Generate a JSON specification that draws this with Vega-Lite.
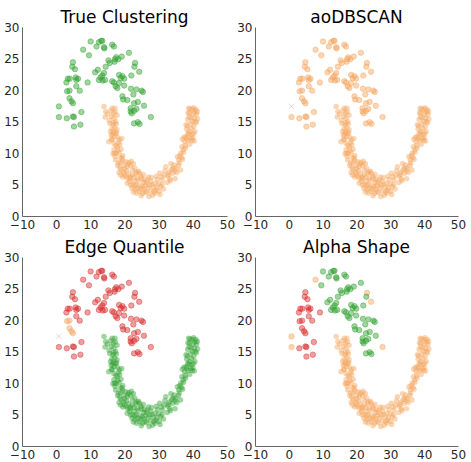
{
"$schema": "https://vega.github.io/schema/vega-lite/v6.json",
"background": "white",
"padding": {"left": 3, "top": 9, "right": 0, "bottom": 0},
"spacing": 9,
"datasets": {"up": [
{"x":0.8,"y":17.4,"t":"G","a":"N","e":"N","s":"O"},
{"x":0.8,"y":15.7,"t":"G","a":"O","e":"R","s":"O"},
{"x":3.1,"y":15.5,"t":"G","a":"O","e":"R","s":"R"},
{"x":5.2,"y":15.7,"t":"G","a":"O","e":"R","s":"R"},
{"x":4.9,"y":15.8,"t":"G","a":"O","e":"R","s":"R"},
{"x":5.2,"y":14.2,"t":"G","a":"O","e":"R","s":"R"},
{"x":7.1,"y":14.5,"t":"G","a":"O","e":"R","s":"R"},
{"x":7.4,"y":16.5,"t":"G","a":"O","e":"R","s":"R"},
{"x":3.9,"y":18.7,"t":"G","a":"O","e":"O","s":"R"},
{"x":4.5,"y":18.2,"t":"G","a":"O","e":"O","s":"R"},
{"x":4.9,"y":17.9,"t":"G","a":"O","e":"O","s":"R"},
{"x":3.2,"y":19.8,"t":"G","a":"O","e":"O","s":"R"},
{"x":3.9,"y":19.9,"t":"G","a":"O","e":"O","s":"R"},
{"x":5.9,"y":20.6,"t":"G","a":"O","e":"R","s":"R"},
{"x":6.9,"y":19.9,"t":"G","a":"O","e":"R","s":"R"},
{"x":3.0,"y":21.2,"t":"G","a":"O","e":"R","s":"R"},
{"x":3.4,"y":21.8,"t":"G","a":"O","e":"R","s":"R"},
{"x":4.0,"y":21.8,"t":"G","a":"O","e":"R","s":"R"},
{"x":5.7,"y":22.0,"t":"G","a":"O","e":"R","s":"R"},
{"x":6.4,"y":21.8,"t":"G","a":"O","e":"R","s":"R"},
{"x":5.9,"y":21.6,"t":"G","a":"O","e":"R","s":"R"},
{"x":4.7,"y":23.7,"t":"G","a":"O","e":"R","s":"R"},
{"x":4.9,"y":24.4,"t":"G","a":"O","e":"R","s":"R"},
{"x":5.5,"y":23.3,"t":"G","a":"O","e":"R","s":"R"},
{"x":9.2,"y":21.2,"t":"G","a":"O","e":"R","s":"R"},
{"x":7.9,"y":26.4,"t":"G","a":"O","e":"R","s":"O"},
{"x":23.1,"y":24.3,"t":"G","a":"O","e":"R","s":"O"},
{"x":24.3,"y":22.9,"t":"G","a":"O","e":"R","s":"O"},
{"x":27.7,"y":15.7,"t":"G","a":"O","e":"R","s":"O"},
{"x":9.6,"y":25.5,"t":"G","a":"O","e":"R","s":"G"},
{"x":10.1,"y":27.7,"t":"G","a":"O","e":"R","s":"G"},
{"x":11.8,"y":26.9,"t":"G","a":"O","e":"R","s":"G"},
{"x":12.5,"y":27.6,"t":"G","a":"O","e":"R","s":"G"},
{"x":13.2,"y":27.8,"t":"G","a":"O","e":"R","s":"G"},
{"x":13.5,"y":27.8,"t":"G","a":"O","e":"R","s":"G"},
{"x":14.0,"y":26.8,"t":"G","a":"O","e":"R","s":"G"},
{"x":14.1,"y":26.6,"t":"G","a":"O","e":"R","s":"G"},
{"x":16.4,"y":27.2,"t":"G","a":"O","e":"R","s":"G"},
{"x":16.9,"y":26.9,"t":"G","a":"O","e":"R","s":"G"},
{"x":11.4,"y":22.8,"t":"G","a":"O","e":"R","s":"G"},
{"x":12.2,"y":23.2,"t":"G","a":"O","e":"R","s":"G"},
{"x":12.5,"y":21.6,"t":"G","a":"O","e":"R","s":"G"},
{"x":13.0,"y":22.0,"t":"G","a":"O","e":"R","s":"G"},
{"x":13.5,"y":22.3,"t":"G","a":"O","e":"R","s":"G"},
{"x":14.0,"y":22.7,"t":"G","a":"O","e":"R","s":"G"},
{"x":14.3,"y":21.6,"t":"G","a":"O","e":"R","s":"G"},
{"x":13.6,"y":21.5,"t":"G","a":"O","e":"R","s":"G"},
{"x":14.5,"y":23.7,"t":"G","a":"O","e":"R","s":"G"},
{"x":15.3,"y":24.7,"t":"G","a":"O","e":"R","s":"G"},
{"x":15.7,"y":24.3,"t":"G","a":"O","e":"R","s":"G"},
{"x":17.2,"y":24.9,"t":"G","a":"O","e":"R","s":"G"},
{"x":17.6,"y":25.2,"t":"G","a":"O","e":"R","s":"G"},
{"x":17.1,"y":24.5,"t":"G","a":"O","e":"R","s":"G"},
{"x":18.2,"y":24.9,"t":"G","a":"O","e":"R","s":"G"},
{"x":19.2,"y":25.3,"t":"G","a":"O","e":"R","s":"G"},
{"x":21.3,"y":25.9,"t":"G","a":"O","e":"R","s":"G"},
{"x":16.4,"y":21.4,"t":"G","a":"O","e":"R","s":"G"},
{"x":16.9,"y":21.2,"t":"G","a":"O","e":"R","s":"G"},
{"x":17.4,"y":20.6,"t":"G","a":"O","e":"R","s":"G"},
{"x":18.4,"y":22.4,"t":"G","a":"O","e":"R","s":"G"},
{"x":18.9,"y":21.9,"t":"G","a":"O","e":"R","s":"G"},
{"x":19.4,"y":22.2,"t":"G","a":"O","e":"R","s":"G"},
{"x":19.9,"y":21.8,"t":"G","a":"O","e":"R","s":"G"},
{"x":18.4,"y":21.1,"t":"G","a":"O","e":"R","s":"G"},
{"x":17.9,"y":20.3,"t":"G","a":"O","e":"R","s":"G"},
{"x":19.9,"y":20.7,"t":"G","a":"O","e":"R","s":"G"},
{"x":19.4,"y":19.0,"t":"G","a":"O","e":"R","s":"G"},
{"x":19.6,"y":18.5,"t":"G","a":"O","e":"R","s":"G"},
{"x":20.8,"y":18.4,"t":"G","a":"O","e":"R","s":"G"},
{"x":22.0,"y":22.3,"t":"G","a":"O","e":"R","s":"G"},
{"x":21.9,"y":20.2,"t":"G","a":"O","e":"R","s":"G"},
{"x":22.8,"y":17.9,"t":"G","a":"O","e":"R","s":"G"},
{"x":23.5,"y":20.1,"t":"G","a":"O","e":"R","s":"G"},
{"x":22.9,"y":23.7,"t":"G","a":"O","e":"R","s":"G"},
{"x":25.0,"y":19.9,"t":"G","a":"O","e":"R","s":"G"},
{"x":25.4,"y":19.7,"t":"G","a":"O","e":"R","s":"G"},
{"x":25.7,"y":17.5,"t":"G","a":"O","e":"R","s":"G"},
{"x":23.9,"y":18.1,"t":"G","a":"O","e":"R","s":"G"},
{"x":21.8,"y":16.6,"t":"G","a":"O","e":"R","s":"G"},
{"x":22.1,"y":16.3,"t":"G","a":"O","e":"R","s":"G"},
{"x":22.8,"y":16.7,"t":"G","a":"O","e":"R","s":"G"},
{"x":23.5,"y":17.0,"t":"G","a":"O","e":"R","s":"G"},
{"x":22.8,"y":14.7,"t":"G","a":"O","e":"R","s":"G"},
{"x":23.9,"y":14.9,"t":"G","a":"O","e":"R","s":"G"},
{"x":24.4,"y":14.6,"t":"G","a":"O","e":"R","s":"G"},
{"x":22.6,"y":19.3,"t":"G","a":"O","e":"R","s":"G"},
{"x":21.8,"y":17.1,"t":"G","a":"O","e":"R","s":"G"}
],
"low": [
{"x":14.0,"y":17.4},{"x":14.5,"y":16.6},{"x":14.3,"y":15.7},{"x":15.0,"y":16.2},{"x":15.5,"y":15.2},{"x":16.4,"y":17.1},{"x":17.2,"y":17.1},{"x":16.7,"y":16.3},{"x":17.3,"y":16.5},{"x":16.9,"y":15.5},{"x":16.2,"y":15.8},{"x":17.4,"y":15.0},{"x":16.8,"y":14.8},{"x":17.6,"y":14.6},{"x":16.6,"y":14.5},{"x":17.1,"y":14.0},{"x":16.3,"y":13.8},{"x":17.8,"y":13.7},{"x":15.9,"y":13.4},{"x":17.4,"y":13.1},{"x":16.8,"y":13.3},{"x":16.1,"y":12.8},{"x":17.0,"y":12.6},
{"x":15.4,"y":11.8},{"x":16.4,"y":12.1},{"x":17.9,"y":12.5},{"x":19.2,"y":12.3},{"x":16.9,"y":11.5},{"x":17.5,"y":11.2},{"x":18.3,"y":11.7},{"x":17.9,"y":11.0},{"x":16.9,"y":10.5},{"x":18.0,"y":10.4},{"x":17.6,"y":9.9},{"x":18.4,"y":10.1},{"x":19.0,"y":10.6},{"x":17.2,"y":9.5},{"x":18.8,"y":9.3},{"x":19.5,"y":9.6},
{"x":17.4,"y":8.9},{"x":18.2,"y":8.4},{"x":18.9,"y":8.5},{"x":19.5,"y":8.8},{"x":20.4,"y":8.6},{"x":21.3,"y":8.5},{"x":22.0,"y":8.7},{"x":20.8,"y":7.8},{"x":21.8,"y":8.0},{"x":19.8,"y":8.0},{"x":18.6,"y":7.7},{"x":22.3,"y":7.3},{"x":23.0,"y":7.6},{"x":19.7,"y":7.0},{"x":18.4,"y":6.9},{"x":20.6,"y":7.2},{"x":21.2,"y":6.7},{"x":22.3,"y":6.5},{"x":23.3,"y":6.8},{"x":24.1,"y":7.1},{"x":19.5,"y":6.2},{"x":20.4,"y":6.3},{"x":21.6,"y":5.9},{"x":23.8,"y":6.0},{"x":24.8,"y":6.3},{"x":25.5,"y":6.6},{"x":22.8,"y":6.1},
{"x":20.8,"y":5.2},{"x":21.8,"y":4.9},{"x":22.8,"y":5.5},{"x":23.5,"y":5.0},{"x":22.2,"y":4.4},{"x":23.0,"y":4.2},{"x":23.8,"y":4.4},{"x":24.3,"y":3.9},{"x":24.8,"y":4.8},{"x":25.3,"y":3.6},{"x":25.8,"y":4.3},{"x":26.2,"y":4.9},{"x":26.7,"y":5.7},{"x":25.6,"y":5.3},{"x":27.7,"y":5.5},{"x":27.2,"y":3.1},{"x":28.2,"y":3.3},{"x":27.6,"y":4.0},{"x":28.5,"y":4.6},{"x":29.2,"y":4.1},{"x":29.0,"y":5.2},{"x":30.1,"y":3.9},{"x":30.4,"y":3.4},{"x":30.6,"y":4.7},{"x":29.6,"y":5.8},{"x":31.1,"y":5.7},{"x":31.6,"y":6.5},{"x":30.8,"y":6.2},{"x":31.4,"y":4.3},{"x":24.0,"y":5.6},{"x":26.5,"y":3.7},{"x":21.5,"y":5.5},{"x":22.6,"y":3.8},{"x":28.9,"y":3.6},{"x":26.9,"y":4.5},{"x":25.0,"y":5.9},{"x":27.9,"y":6.1},
{"x":32.6,"y":6.3},{"x":33.1,"y":7.0},{"x":34.1,"y":6.8},{"x":32.1,"y":7.8},{"x":33.4,"y":5.6},{"x":34.5,"y":8.1},{"x":35.0,"y":7.6},{"x":33.8,"y":7.4},{"x":36.0,"y":8.4},{"x":35.3,"y":6.9},{"x":36.4,"y":7.3},{"x":34.8,"y":5.9},{"x":32.5,"y":5.3},{"x":35.5,"y":9.4},{"x":36.5,"y":10.0},{"x":37.0,"y":9.0},{"x":35.9,"y":8.9},{"x":36.2,"y":9.6},
{"x":36.8,"y":11.0},{"x":37.6,"y":11.8},{"x":37.2,"y":10.5},{"x":38.0,"y":12.6},{"x":38.5,"y":13.1},{"x":37.8,"y":11.2},{"x":39.0,"y":13.4},{"x":39.7,"y":12.9},{"x":40.2,"y":13.1},{"x":39.4,"y":12.3},{"x":40.4,"y":11.9},{"x":38.6,"y":12.0},{"x":39.1,"y":11.4},{"x":40.0,"y":12.4},{"x":38.2,"y":13.8},{"x":37.4,"y":12.5},{"x":36.9,"y":12.2},{"x":39.6,"y":13.9},
{"x":38.0,"y":14.5},{"x":38.5,"y":15.3},{"x":39.0,"y":16.3},{"x":38.8,"y":17.1},{"x":39.9,"y":16.9},{"x":40.9,"y":16.9},{"x":41.1,"y":16.1},{"x":40.4,"y":15.5},{"x":39.9,"y":15.0},{"x":41.4,"y":15.4},{"x":38.4,"y":14.3},{"x":39.3,"y":14.6},{"x":40.6,"y":16.5},{"x":40.1,"y":16.2},{"x":39.5,"y":15.6},{"x":41.0,"y":14.8},{"x":38.6,"y":16.4},{"x":40.3,"y":14.2},
{"x":16.0,"y":16.7},{"x":17.8,"y":16.0},{"x":15.7,"y":14.7},{"x":16.5,"y":13.0},{"x":17.7,"y":13.2},{"x":16.2,"y":12.2},{"x":18.5,"y":12.1},{"x":17.1,"y":10.0},{"x":18.6,"y":11.3},{"x":19.3,"y":9.2},{"x":16.6,"y":9.9},
{"x":18.0,"y":8.0},{"x":19.0,"y":7.4},{"x":20.0,"y":7.5},{"x":21.0,"y":8.2},{"x":22.6,"y":8.3},{"x":23.6,"y":7.0},{"x":19.9,"y":6.6},{"x":21.7,"y":6.2},{"x":24.4,"y":6.8},{"x":20.9,"y":6.0},{"x":18.8,"y":6.5},
{"x":22.4,"y":5.0},{"x":23.2,"y":4.8},{"x":24.6,"y":4.3},{"x":25.2,"y":4.6},{"x":26.0,"y":3.9},{"x":27.3,"y":4.9},{"x":28.0,"y":5.0},{"x":29.5,"y":4.5},{"x":30.0,"y":5.1},{"x":31.0,"y":5.0},{"x":24.9,"y":3.2},{"x":26.4,"y":5.3},{"x":28.6,"y":3.9},{"x":23.5,"y":3.6},{"x":27.0,"y":6.2},{"x":29.3,"y":6.3},{"x":30.3,"y":6.8},{"x":25.7,"y":5.8},
{"x":32.9,"y":6.6},{"x":33.6,"y":8.3},{"x":34.8,"y":7.2},{"x":35.8,"y":8.0},{"x":34.2,"y":7.6},{"x":33.3,"y":5.9},{"x":36.7,"y":9.3},{"x":37.3,"y":10.1},{"x":31.8,"y":7.2},
{"x":38.3,"y":12.3},{"x":39.8,"y":12.0},{"x":37.9,"y":10.8},{"x":40.6,"y":13.4},{"x":38.9,"y":13.0},
{"x":39.2,"y":17.0},{"x":40.2,"y":17.2},{"x":41.3,"y":16.6},{"x":38.9,"y":15.7},{"x":40.7,"y":15.0}
]},
"config": {
  "view": {"stroke": null},
  "font": "DejaVu Sans",
  "title": {"fontSize": 17, "fontWeight": "normal", "font": "DejaVu Sans", "color": "#000", "offset": -6},
  "axis": {"grid": false, "domainColor": "#666", "ticks": false, "labelFontSize": 12, "labelColor": "#262626", "title": null, "labelFont": "DejaVu Sans", "labelOverlap": false, "labelFlush": false},
  "axisX": {"labelPadding": 3},
  "axisY": {"labelPadding": 3},
  "point": {"filled": true, "size": 30, "opacity": 1, "fillOpacity": 0.45, "strokeOpacity": 0.5, "strokeWidth": 0.8}
},
"vconcat": [
 {"spacing": 1, "hconcat": [
  {"title": "True Clustering", "width": 205, "height": 189,
   "encoding": {"x": {"field": "x", "type": "quantitative", "scale": {"domain": [-10, 50], "nice": false}, "axis": {"values": [-10,0,10,20,30,40,50], "labelOverlap": false}},
                "y": {"field": "y", "type": "quantitative", "scale": {"domain": [0, 30], "nice": false}, "axis": {"values": [0,5,10,15,20,25,30], "labelOverlap": false}}},
   "layer": [
    {"data": {"name": "low"}, "mark": {"type": "point", "color": "#f5a35c"}},
    {"data": {"name": "up"}, "mark": {"type": "point"},
     "encoding": {
       "color": {"field": "t", "type": "nominal", "scale": {"domain": ["G","O","R","N"], "range": ["#2ca02c","#f5a35c","#d62728","#aaaaaa"]}, "legend": null},
       "stroke": {"field": "t", "type": "nominal", "scale": {"domain": ["G","O","R","N"], "range": ["#2ca02c","#f5a35c","#d62728","#aaaaaa"]}, "legend": null},
       "shape": {"field": "t", "type": "nominal", "scale": {"domain": ["G","O","R","N"], "range": ["circle","circle","circle","M-1,-1L1,1M1,-1L-1,1"]}, "legend": null}}}
   ]},
  {"title": "aoDBSCAN", "width": 203, "height": 189,
   "encoding": {"x": {"field": "x", "type": "quantitative", "scale": {"domain": [-10, 50], "nice": false}, "axis": {"values": [-10,0,10,20,30,40,50], "labelOverlap": false}},
                "y": {"field": "y", "type": "quantitative", "scale": {"domain": [0, 30], "nice": false}, "axis": {"values": [0,5,10,15,20,25,30], "labelOverlap": false}}},
   "layer": [
    {"data": {"name": "low"}, "mark": {"type": "point", "color": "#f5a35c"}},
    {"data": {"name": "up"}, "mark": {"type": "point"},
     "encoding": {
       "color": {"field": "a", "type": "nominal", "scale": {"domain": ["G","O","R","N"], "range": ["#2ca02c","#f5a35c","#d62728","#aaaaaa"]}, "legend": null},
       "stroke": {"field": "a", "type": "nominal", "scale": {"domain": ["G","O","R","N"], "range": ["#2ca02c","#f5a35c","#d62728","#aaaaaa"]}, "legend": null},
       "shape": {"field": "a", "type": "nominal", "scale": {"domain": ["G","O","R","N"], "range": ["circle","circle","circle","M-1,-1L1,1M1,-1L-1,1"]}, "legend": null}}}
   ]}
 ]},
 {"spacing": 1, "hconcat": [
  {"title": "Edge Quantile", "width": 205, "height": 189,
   "encoding": {"x": {"field": "x", "type": "quantitative", "scale": {"domain": [-10, 50], "nice": false}, "axis": {"values": [-10,0,10,20,30,40,50], "labelOverlap": false}},
                "y": {"field": "y", "type": "quantitative", "scale": {"domain": [0, 30], "nice": false}, "axis": {"values": [0,5,10,15,20,25,30], "labelOverlap": false}}},
   "layer": [
    {"data": {"name": "low"}, "mark": {"type": "point", "color": "#2ca02c"}},
    {"data": {"name": "up"}, "mark": {"type": "point"},
     "encoding": {
       "color": {"field": "e", "type": "nominal", "scale": {"domain": ["G","O","R","N"], "range": ["#2ca02c","#f5a35c","#d62728","#aaaaaa"]}, "legend": null},
       "stroke": {"field": "e", "type": "nominal", "scale": {"domain": ["G","O","R","N"], "range": ["#2ca02c","#f5a35c","#d62728","#aaaaaa"]}, "legend": null},
       "shape": {"field": "e", "type": "nominal", "scale": {"domain": ["G","O","R","N"], "range": ["circle","circle","circle","M-1,-1L1,1M1,-1L-1,1"]}, "legend": null}}}
   ]},
  {"title": "Alpha Shape", "width": 203, "height": 189,
   "encoding": {"x": {"field": "x", "type": "quantitative", "scale": {"domain": [-10, 50], "nice": false}, "axis": {"values": [-10,0,10,20,30,40,50], "labelOverlap": false}},
                "y": {"field": "y", "type": "quantitative", "scale": {"domain": [0, 30], "nice": false}, "axis": {"values": [0,5,10,15,20,25,30], "labelOverlap": false}}},
   "layer": [
    {"data": {"name": "low"}, "mark": {"type": "point", "color": "#f5a35c"}},
    {"data": {"name": "up"}, "mark": {"type": "point"},
     "encoding": {
       "color": {"field": "s", "type": "nominal", "scale": {"domain": ["G","O","R","N"], "range": ["#2ca02c","#f5a35c","#d62728","#aaaaaa"]}, "legend": null},
       "stroke": {"field": "s", "type": "nominal", "scale": {"domain": ["G","O","R","N"], "range": ["#2ca02c","#f5a35c","#d62728","#aaaaaa"]}, "legend": null},
       "shape": {"field": "s", "type": "nominal", "scale": {"domain": ["G","O","R","N"], "range": ["circle","circle","circle","M-1,-1L1,1M1,-1L-1,1"]}, "legend": null}}}
   ]}
 ]}
]
}
